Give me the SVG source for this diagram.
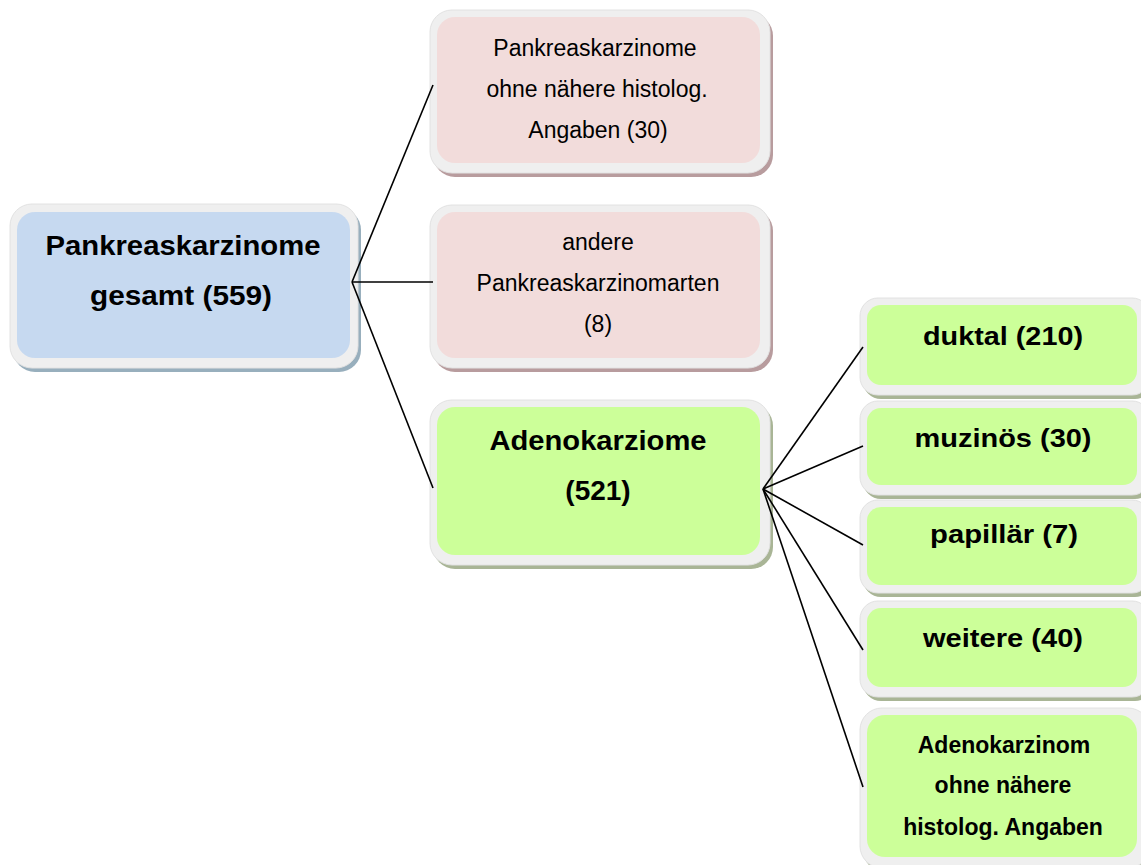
<svg xmlns="http://www.w3.org/2000/svg" width="1141" height="865" viewBox="0 0 1141 865">
<style>
.frame{fill:#efefef;stroke:#e2e2e2;stroke-width:1}
.sb{fill:#98afbd}
.sp{fill:#b89c9e}
.sg{fill:#a9b596}
.blue{fill:#c6d9f0}
.pink{fill:#f2dcdb}
.green{fill:#ccff99}
.t{font-family:"Liberation Sans",Arial,sans-serif;fill:#000;text-anchor:middle}
.b{font-weight:bold}
.conn line{stroke:#000;stroke-width:1.6}
</style>
<rect width="1141" height="865" fill="#fff"/>
<g id="root">
<rect class="sb" x="13" y="208" width="348" height="164" rx="22"/>
<rect class="frame" x="10" y="204" width="348" height="164" rx="22"/>
<rect class="blue" x="17" y="212" width="333" height="146" rx="18"/>
<text class="t b" x="183" y="255" font-size="27" textLength="275" lengthAdjust="spacingAndGlyphs">Pankreaskarzinome</text>
<text class="t b" x="181" y="305" font-size="27" textLength="182" lengthAdjust="spacingAndGlyphs">gesamt (559)</text>
</g>
<g id="ohne-histolog">
<rect class="sp" x="433" y="14" width="340" height="163" rx="22"/>
<rect class="frame" x="430" y="10" width="340" height="163" rx="22"/>
<rect class="pink" x="437" y="17" width="323" height="146" rx="18"/>
<text class="t" x="595" y="56" font-size="23">Pankreaskarzinome</text>
<text class="t" x="597" y="97" font-size="23">ohne nähere histolog.</text>
<text class="t" x="598" y="138" font-size="23">Angaben (30)</text>
</g>
<g id="andere">
<rect class="sp" x="433" y="209" width="340" height="163" rx="22"/>
<rect class="frame" x="430" y="205" width="340" height="163" rx="22"/>
<rect class="pink" x="437" y="212" width="323" height="146" rx="18"/>
<text class="t" x="598" y="250" font-size="23">andere</text>
<text class="t" x="598" y="291" font-size="23">Pankreaskarzinomarten</text>
<text class="t" x="598" y="332" font-size="23">(8)</text>
</g>
<g id="adeno">
<rect class="sg" x="433" y="404" width="340" height="165" rx="22"/>
<rect class="frame" x="430" y="400" width="340" height="165" rx="22"/>
<rect class="green" x="437" y="407" width="323" height="148" rx="18"/>
<text class="t b" x="598" y="450" font-size="28" textLength="217" lengthAdjust="spacingAndGlyphs">Adenokarziome</text>
<text class="t b" x="598" y="500" font-size="28">(521)</text>
</g>
<g id="duktal">
<rect class="sg" x="863" y="302" width="290" height="97" rx="18"/>
<rect class="frame" x="860" y="298" width="290" height="97" rx="18"/>
<rect class="green" x="867" y="305" width="270" height="80" rx="14"/>
<text class="t b" x="1003" y="345" font-size="25" textLength="160" lengthAdjust="spacingAndGlyphs">duktal (210)</text>
</g>
<g id="muzinoes">
<rect class="sg" x="863" y="405" width="290" height="94" rx="18"/>
<rect class="frame" x="860" y="401" width="290" height="94" rx="18"/>
<rect class="green" x="867" y="408" width="270" height="77" rx="14"/>
<text class="t b" x="1003" y="447" font-size="25" textLength="177" lengthAdjust="spacingAndGlyphs">muzinös (30)</text>
</g>
<g id="papillaer">
<rect class="sg" x="863" y="504" width="290" height="93" rx="18"/>
<rect class="frame" x="860" y="500" width="290" height="93" rx="18"/>
<rect class="green" x="867" y="507" width="270" height="78" rx="14"/>
<text class="t b" x="1004" y="543" font-size="25" textLength="148" lengthAdjust="spacingAndGlyphs">papillär (7)</text>
</g>
<g id="weitere">
<rect class="sg" x="863" y="605" width="290" height="96" rx="18"/>
<rect class="frame" x="860" y="601" width="290" height="96" rx="18"/>
<rect class="green" x="867" y="608" width="270" height="79" rx="14"/>
<text class="t b" x="1003" y="647" font-size="25" textLength="160" lengthAdjust="spacingAndGlyphs">weitere (40)</text>
</g>
<g id="adeno-ohne">
<rect class="sg" x="863" y="712" width="290" height="160" rx="22"/>
<rect class="frame" x="860" y="708" width="290" height="160" rx="22"/>
<rect class="green" x="867" y="715" width="270" height="142" rx="18"/>
<text class="t b" x="1004" y="753" font-size="23">Adenokarzinom</text>
<text class="t b" x="1003" y="793" font-size="23">ohne nähere</text>
<text class="t b" x="1003" y="835" font-size="23">histolog. Angaben</text>
</g>
<g class="conn">
<line x1="352" y1="282" x2="433" y2="85"/>
<line x1="352" y1="282" x2="433" y2="282"/>
<line x1="352" y1="282" x2="433" y2="488"/>
<line x1="763" y1="489" x2="863" y2="347"/>
<line x1="763" y1="489" x2="863" y2="446"/>
<line x1="763" y1="489" x2="863" y2="545"/>
<line x1="763" y1="489" x2="863" y2="650"/>
<line x1="763" y1="489" x2="863" y2="787"/>
</g>
</svg>
